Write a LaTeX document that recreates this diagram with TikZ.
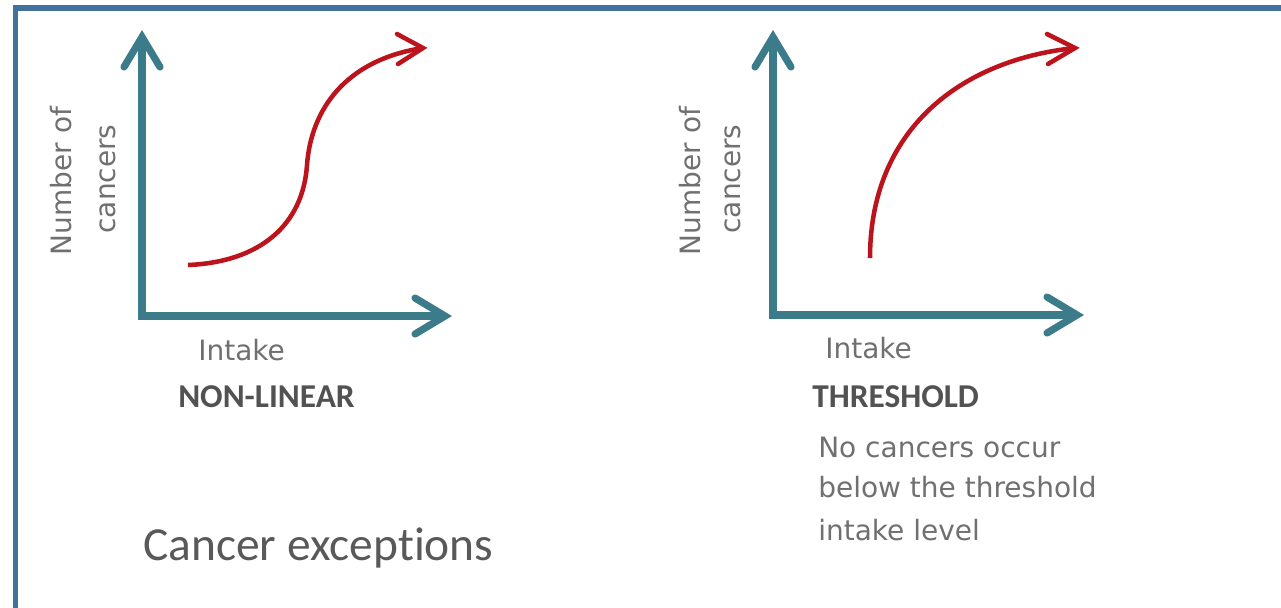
\documentclass[tikz,border=0pt]{standalone}
\usepackage{fontspec}
\setmainfont{DejaVu Sans}
\newfontfamily\calibri[Ligatures=NoCommon]{Carlito}
\definecolor{framecol}{RGB}{65,113,156}
\definecolor{axiscol}{RGB}{60,123,138}
\definecolor{curvecol}{RGB}{188,20,28}
\definecolor{lblcol}{RGB}{112,112,112}
\definecolor{headcol}{RGB}{82,82,82}
\definecolor{titlecol}{RGB}{89,89,89}
\begin{document}
\begin{tikzpicture}[x=0.75pt,y=-0.75pt,
  axis/.style={draw=axiscol, line width=6pt, line join=miter},
  axishead/.style={draw=axiscol, line width=5.4pt, line cap=round, line join=miter},
  curve/.style={draw=curvecol, line width=3.4pt},
  curvehead/.style={draw=curvecol, line width=3.4pt, line cap=round, line join=miter},
  lbl/.style={inner sep=0pt, text=lblcol, font=\fontsize{21pt}{25pt}\selectfont},
  head/.style={inner sep=0pt, text=headcol, font=\calibri\bfseries\fontsize{25pt}{30pt}\selectfont},
  title/.style={inner sep=0pt, text=titlecol, font=\calibri\fontsize{35.6pt}{42pt}\selectfont}]

\useasboundingbox (0,0) rectangle (1281,607);
\clip (0,0) rectangle (1281,607);
\fill[white] (0,0) rectangle (1281,607);

% slide frame (continues past the right and bottom edges)
\draw[draw=framecol, line width=4pt] (15.5,8) rectangle (1320,640);

% ---------- left chart: non-linear ----------
\coordinate (origA) at (142,316);
\coordinate (ytipA) at (142,37);
\coordinate (xtipA) at (445,316);
\draw[axis] (ytipA) -- (origA) -- (xtipA);
\draw[axishead] (124,67) -- (ytipA) -- (160,67);
\draw[axishead] (415,298) -- (xtipA) -- (415,334);

\coordinate (startA) at (188,265);
\coordinate (midA) at (307,165);
\coordinate (endA) at (423,48);
\draw[curve] (startA) .. controls (260,262) and (303,225) .. (midA)
             .. controls (311,110) and (345,60) .. (endA);
\draw[curvehead] (397,34) -- (endA) -- (398,64);

\node[lbl, rotate=90, anchor=base] (ylabA1) at (71,181) {Number of};
\node[lbl, rotate=90, anchor=base] (ylabA2) at (115,179) {cancers};
\node[lbl, anchor=base west] (intakeA) at (198,360) {Intake};
\node[head, anchor=base west] (nonlin) at (178,407) {NON-LINEAR};

% ---------- right chart: threshold ----------
\coordinate (origB) at (773,315);
\coordinate (ytipB) at (773,37);
\coordinate (xtipB) at (1077,315);
\draw[axis] (ytipB) -- (origB) -- (xtipB);
\draw[axishead] (755,67) -- (ytipB) -- (791,67);
\draw[axishead] (1047,297) -- (xtipB) -- (1047,333);

\coordinate (startB) at (870,258);
\coordinate (endB) at (1075,48);
\draw[curve] (startB) .. controls (870,130) and (960,60) .. (endB);
\draw[curvehead] (1047,34) -- (endB) -- (1048,64);

\node[lbl, rotate=90, anchor=base] (ylabB1) at (700,181) {Number of};
\node[lbl, rotate=90, anchor=base] (ylabB2) at (740,179) {cancers};
\node[lbl, anchor=base west] (intakeB) at (825,358) {Intake};
\node[head, anchor=base west] (thresh) at (812,407) {THRESHOLD};
\node[lbl, anchor=base west] (note1) at (818,457) {No cancers occur};
\node[lbl, anchor=base west] (note2) at (818,497) {below the threshold};
\node[lbl, anchor=base west] (note3) at (818,540) {intake level};

% ---------- slide caption ----------
\node[title, anchor=base west] (caption) at (143,560) {Cancer exceptions};
\end{tikzpicture}
\end{document}
